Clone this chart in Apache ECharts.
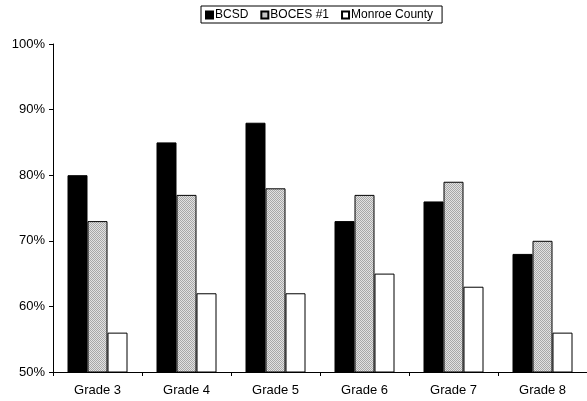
<!DOCTYPE html>
<html><head><meta charset="utf-8">
<script src="https://cdn.jsdelivr.net/npm/echarts@6/dist/echarts.min.js"></script>
<style>html,body{margin:0;padding:0;background:#fff}#c{width:587px;height:401px}</style>
</head><body><div id="c"></div>
<script>
var categories = ['Grade 3','Grade 4','Grade 5','Grade 6','Grade 7','Grade 8'];
var bcsd = [80, 85, 88, 73, 76, 68];
var boces = [73, 77, 78, 77, 79, 70];
var monroe = [56, 62, 62, 65, 63, 56];
var seriesNames = ['BCSD','BOCES #1','Monroe County'];

var pc = document.createElement('canvas');
pc.width = 2; pc.height = 2;
var g = pc.getContext('2d');
g.fillStyle = '#e2e2e2'; g.fillRect(0,0,2,2);
g.fillStyle = '#a8a8a8'; g.fillRect(0,0,1,1); g.fillRect(1,1,1,1);
var hatch = {image: pc, repeat: 'repeat'};

var font = 'Liberation Sans, Arial, sans-serif';
var chart = echarts.init(document.getElementById('c'), null, {renderer:'canvas'});
function mk(name, data, color){
  return {name:name, type:'bar', data:data, barWidth:20, barGap:'0%',
    itemStyle:{color:color, borderColor:'#000', borderWidth:1}};
}
chart.setOption({
  animation:false,
  backgroundColor:'#fff',
  textStyle:{fontFamily:font},
  legend:{top:6, left:201, icon:'rect', itemWidth:7, itemHeight:7, itemGap:12, padding:[3,9,2,4],
    borderColor:'#000', borderWidth:1, borderRadius:0,
    textStyle:{fontSize:12, color:'#000', fontFamily:font, padding:[0,0,0,-3]},
    data:seriesNames},
  grid:{left:53, top:44, width:536, height:328, containLabel:false},
  xAxis:{type:'category', data:categories,
    axisLine:{lineStyle:{color:'#000', width:1}},
    axisTick:{show:true, length:4, inside:false, alignWithLabel:false, lineStyle:{color:'#000'}},
    axisLabel:{color:'#000', fontSize:13, margin:12, fontFamily:font}},
  yAxis:{type:'value', min:50, max:100, interval:10,
    axisLine:{show:true, lineStyle:{color:'#000'}},
    axisTick:{show:true, length:4, lineStyle:{color:'#000'}},
    splitLine:{show:false},
    axisLabel:{color:'#000', fontSize:13, margin:8, fontFamily:font, formatter:'{value}%'}},
  series:[mk(seriesNames[0], bcsd, '#000'), mk(seriesNames[1], boces, hatch), mk(seriesNames[2], monroe, '#fff')]
});
</script></body></html>
